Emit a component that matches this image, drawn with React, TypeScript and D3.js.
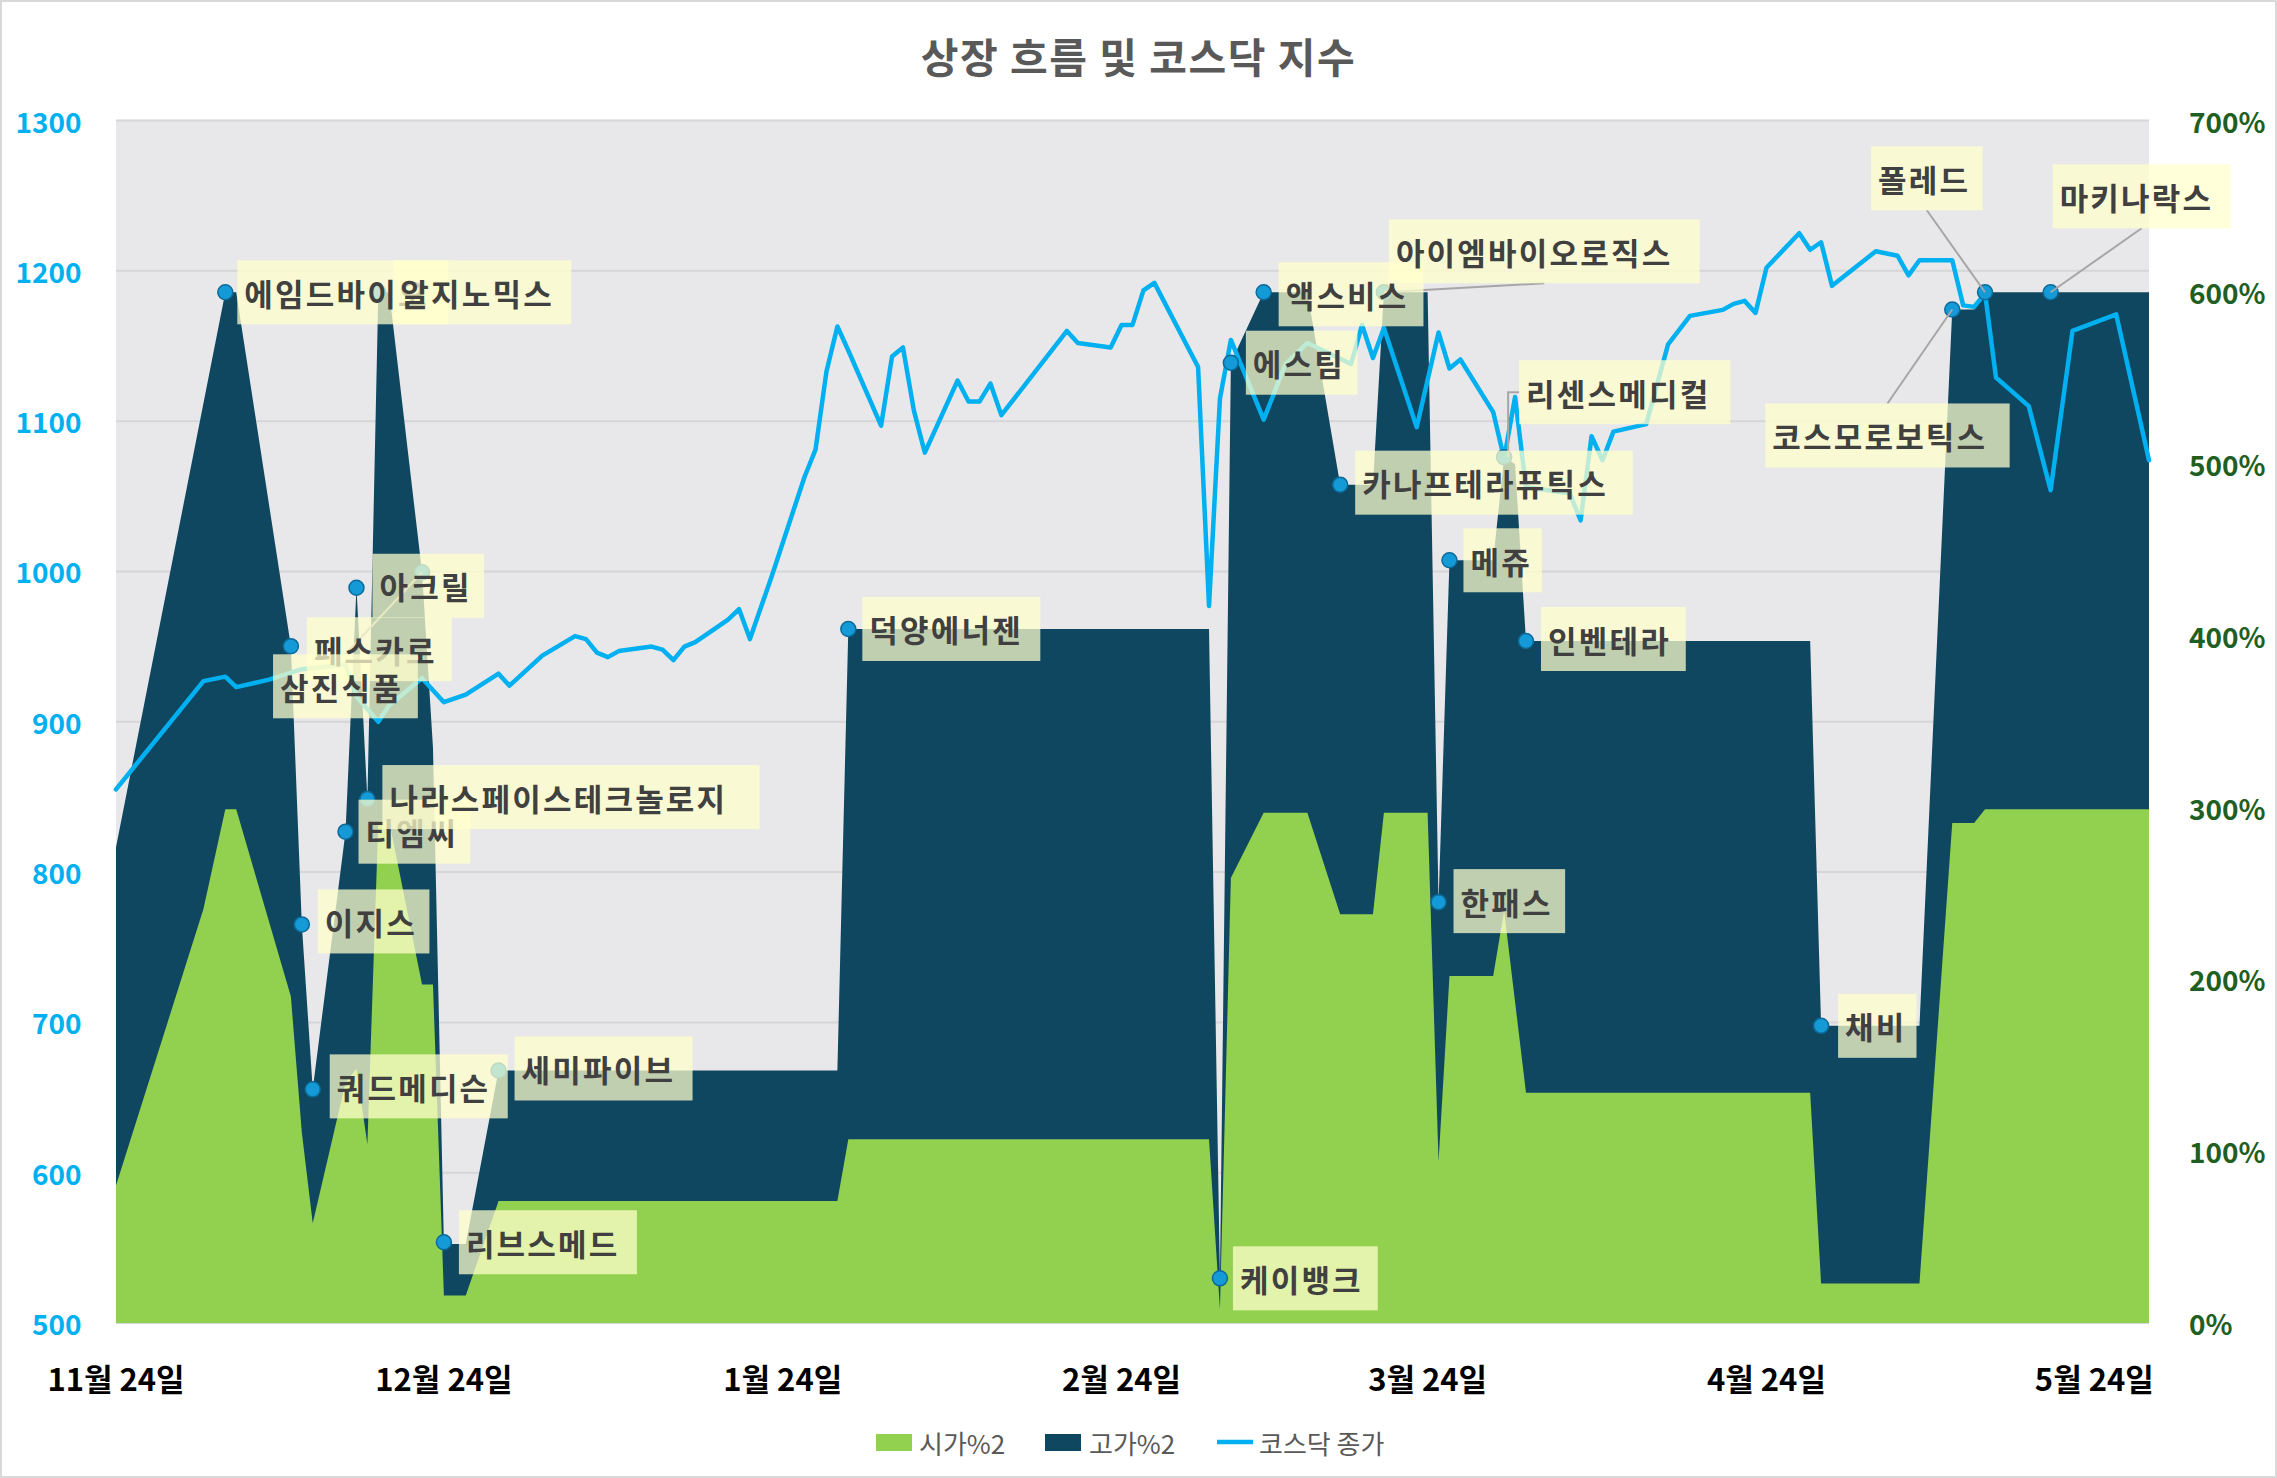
import * as d3 from 'd3';

const W = 2277;
const H = 1478;
const M = { left: 116, right: 2149, top: 120.5, bottom: 1323 };

const TITLE = '상장 흐름 및 코스닥 지수';
const X_DOMAIN = ['2025-11-24', '2026-05-29'];
const X_TICKS = ['2025-11-24', '2025-12-24', '2026-01-24', '2026-02-24', '2026-03-24', '2026-04-24', '2026-05-24'];
const KOSDAQ_TICKS = [500, 600, 700, 800, 900, 1000, 1100, 1200, 1300];
const PCT_TICKS = [0, 100, 200, 300, 400, 500, 600, 700];

// 고가%2 (navy area)
const HIGH_DATES = [
  '2025-11-24', '2025-12-04', '2025-12-05', '2025-12-10', '2025-12-11', '2025-12-12', '2025-12-15',
  '2025-12-16', '2025-12-17', '2025-12-18', '2025-12-19', '2025-12-22', '2025-12-23', '2025-12-24',
  '2025-12-26', '2025-12-29', '2026-01-29', '2026-01-30', '2026-03-04', '2026-03-05', '2026-03-06',
  '2026-03-09', '2026-03-13', '2026-03-16', '2026-03-19', '2026-03-20', '2026-03-24', '2026-03-25',
  '2026-03-26', '2026-03-30', '2026-03-31', '2026-04-01', '2026-04-02', '2026-04-28', '2026-04-29',
  '2026-05-08', '2026-05-11', '2026-05-13', '2026-05-14', '2026-05-29',
];
const HIGH_PCT = [
  277, 600, 600, 394, 232, 136, 286,
  428, 305, 600, 600, 437, 335, 46,
  46, 147, 147, 404, 404, 26, 559,
  600, 600, 488, 488, 600, 600, 245,
  444, 444, 504, 500, 397, 397, 173,
  173, 590, 590, 600, 600,
];

// 시가%2 (green area)
const OPEN_DATES = [
  '2025-11-24', '2025-12-02', '2025-12-04', '2025-12-05', '2025-12-10', '2025-12-11', '2025-12-12',
  '2025-12-15', '2025-12-16', '2025-12-17', '2025-12-18', '2025-12-19', '2025-12-22', '2025-12-23',
  '2025-12-24', '2025-12-26', '2025-12-29', '2026-01-29', '2026-01-30', '2026-03-04', '2026-03-05',
  '2026-03-06', '2026-03-09', '2026-03-13', '2026-03-16', '2026-03-19', '2026-03-20', '2026-03-24',
  '2026-03-25', '2026-03-26', '2026-03-30', '2026-03-31', '2026-04-01', '2026-04-02', '2026-04-28',
  '2026-04-29', '2026-05-08', '2026-05-11', '2026-05-13', '2026-05-14', '2026-05-29',
];
const OPEN_PCT = [
  80, 241, 299, 299, 190, 111, 58,
  140, 148, 104, 292, 292, 197, 197,
  16, 16, 71, 71, 107, 107, 8,
  259, 297, 297, 238, 238, 297, 297,
  94, 202, 202, 240, 187, 134, 134,
  23, 23, 291, 291, 299, 299,
];

// 코스닥 종가
const KOSDAQ_DATES = [
  '2025-11-24', '2025-12-02', '2025-12-04', '2025-12-05', '2025-12-08', '2025-12-11', '2025-12-15',
  '2025-12-16', '2025-12-18', '2025-12-19', '2025-12-22', '2025-12-24', '2025-12-26', '2025-12-29',
  '2025-12-30', '2026-01-02', '2026-01-05', '2026-01-06', '2026-01-07', '2026-01-08', '2026-01-09',
  '2026-01-12', '2026-01-13', '2026-01-14', '2026-01-15', '2026-01-16', '2026-01-19', '2026-01-20',
  '2026-01-21', '2026-01-23', '2026-01-26', '2026-01-27', '2026-01-28', '2026-01-29', '2026-01-30',
  '2026-02-02', '2026-02-03', '2026-02-04', '2026-02-05', '2026-02-06', '2026-02-09', '2026-02-10',
  '2026-02-11', '2026-02-12', '2026-02-13', '2026-02-19', '2026-02-20', '2026-02-23', '2026-02-24',
  '2026-02-25', '2026-02-26', '2026-02-27', '2026-03-03', '2026-03-04', '2026-03-05', '2026-03-06',
  '2026-03-09', '2026-03-11', '2026-03-13', '2026-03-17', '2026-03-18', '2026-03-19', '2026-03-20',
  '2026-03-23', '2026-03-25', '2026-03-26', '2026-03-27', '2026-03-30', '2026-03-31', '2026-04-01',
  '2026-04-02', '2026-04-06', '2026-04-07', '2026-04-08', '2026-04-09', '2026-04-10', '2026-04-13',
  '2026-04-15', '2026-04-17', '2026-04-20', '2026-04-21', '2026-04-22', '2026-04-23', '2026-04-24',
  '2026-04-27', '2026-04-28', '2026-04-29', '2026-04-30', '2026-05-04', '2026-05-06', '2026-05-07',
  '2026-05-08', '2026-05-11', '2026-05-12', '2026-05-13', '2026-05-14', '2026-05-15', '2026-05-18',
  '2026-05-20', '2026-05-22', '2026-05-26', '2026-05-29',
];
const KOSDAQ_CLOSE = [
  855, 927, 930, 923, 928, 935, 938,
  917, 900, 911, 929, 913, 918, 932,
  924, 944, 957, 955, 946, 943, 947,
  950, 948, 941, 950, 953, 968, 975,
  955, 997, 1063, 1081, 1133, 1163, 1147,
  1097, 1143, 1149, 1107, 1079, 1127, 1113,
  1113, 1125, 1104, 1160, 1152, 1149, 1164,
  1164, 1187, 1192, 1136, 977, 1115, 1154,
  1101, 1138, 1152, 1138, 1164, 1142, 1162,
  1096, 1159, 1135, 1141, 1106, 1075, 1116,
  1056, 1052, 1034, 1090, 1074, 1093, 1098,
  1151, 1170, 1174, 1178, 1180, 1172, 1202,
  1225, 1214, 1219, 1190, 1213, 1210, 1197,
  1207, 1207, 1177, 1176, 1185, 1129, 1110,
  1054, 1160, 1171, 1074,
];

// 상장 종목 (label points on 고가%2)
const LISTING_NAMES = [
  '에임드바이오', '페스카로', '이지스', '쿼드메디슨', '티엠씨', '아크릴', '나라스페이스테크놀로지',
  '알지노믹스', '삼진식품', '리브스메드', '세미파이브', '덕양에너젠', '케이뱅크', '에스팀',
  '액스비스', '카나프테라퓨틱스', '아이엠바이오로직스', '한패스', '메쥬', '리센스메디컬', '인벤테라',
  '채비', '코스모로보틱스', '폴레드', '마키나락스',
];
const LISTING_DATES = [
  '2025-12-04', '2025-12-10', '2025-12-11', '2025-12-12', '2025-12-15', '2025-12-16', '2025-12-17',
  '2025-12-18', '2025-12-22', '2025-12-24', '2025-12-29', '2026-01-30', '2026-03-05', '2026-03-06',
  '2026-03-09', '2026-03-16', '2026-03-20', '2026-03-25', '2026-03-26', '2026-03-31', '2026-04-02',
  '2026-04-29', '2026-05-11', '2026-05-14', '2026-05-20',
];
const LISTING_PCT = [
  600, 394, 232, 136, 286, 428, 305,
  600, 437, 47, 147, 404, 26, 559,
  600, 488, 600, 245, 444, 504, 397,
  173, 590, 600, 600,
];

// label placement (pixels, relative to the point)
type Layout = { dx: number; dy: number; leader?: 'top' | 'bottom' | 'elbow' };
const LABEL_LAYOUT: Record<string, Layout> = {
  에임드바이오: { dx: 12, dy: 0 },
  페스카로: { dx: 16, dy: 3 },
  이지스: { dx: 16, dy: -3 },
  쿼드메디슨: { dx: 17, dy: -3 },
  티엠씨: { dx: 13, dy: 0 },
  아크릴: { dx: 16, dy: -2 },
  나라스페이스테크놀로지: { dx: 15, dy: -2 },
  알지노믹스: { dx: 15, dy: 0 },
  삼진식품: { dx: -149, dy: 114, leader: 'top' },
  리브스메드: { dx: 15, dy: 0 },
  세미파이브: { dx: 16, dy: -2 },
  덕양에너젠: { dx: 14, dy: 0 },
  케이뱅크: { dx: 13, dy: 0 },
  에스팀: { dx: 15, dy: 0 },
  액스비스: { dx: 15, dy: 2 },
  카나프테라퓨틱스: { dx: 15, dy: -2 },
  아이엠바이오로직스: { dx: 5, dy: -41, leader: 'bottom' },
  한패스: { dx: 15, dy: -1 },
  메쥬: { dx: 14, dy: 0 },
  리센스메디컬: { dx: 15, dy: -65, leader: 'elbow' },
  인벤테라: { dx: 15, dy: -2 },
  채비: { dx: 17, dy: 0 },
  코스모로보틱스: { dx: -187, dy: 126, leader: 'top' },
  폴레드: { dx: -114, dy: -114, leader: 'bottom' },
  마키나락스: { dx: 2, dy: -96, leader: 'bottom' },
};

const FONT = "'Noto Sans CJK KR', 'Noto Sans', sans-serif";
const NAVY = '#0F4761';
const GREEN = '#92D050';
const CYAN = '#00B0F0';
const LABEL_FS = 31;
const LABEL_LS = 2.2;
const BOX_H = 64;

const parse = d3.timeParse('%Y-%m-%d');
type Pt = { date: Date; v: number };
const zip = (dates: string[], vals: number[]): Pt[] => dates.map((d, i) => ({ date: parse(d) as Date, v: vals[i] }));

export default function App() {
  const x = d3.scaleTime()
    .domain(X_DOMAIN.map(d => parse(d) as Date))
    .range([M.left, M.right]);
  const yL = d3.scaleLinear().domain([500, 1300]).range([M.bottom, M.top]);
  const yR = d3.scaleLinear().domain([0, 700]).range([M.bottom, M.top]);

  const high = zip(HIGH_DATES, HIGH_PCT);
  const open = zip(OPEN_DATES, OPEN_PCT);
  const kosdaq = zip(KOSDAQ_DATES, KOSDAQ_CLOSE);

  const area = d3.area<Pt>()
    .x(d => x(d.date))
    .y0(yR(0))
    .y1(d => yR(d.v));
  const line = d3.line<Pt>()
    .x(d => x(d.date))
    .y(d => yL(d.v));

  const labels = LISTING_NAMES.map((name, i) => {
    const px = x(parse(LISTING_DATES[i]) as Date);
    const py = yR(LISTING_PCT[i]);
    const lay = LABEL_LAYOUT[name];
    const w = name.length * (LABEL_FS + LABEL_LS) + 12;
    const bx = px + lay.dx;
    const by = py + lay.dy - BOX_H / 2;
    let leader: [number, number][] | null = null;
    if (lay.leader === 'top') leader = [[bx + w / 2, by], [px, py]];
    if (lay.leader === 'bottom') leader = [[bx + w / 2, by + BOX_H], [px, py]];
    if (lay.leader === 'elbow') leader = [[bx, by + BOX_H / 2], [px + 4, by + BOX_H / 2], [px + 4, py]];
    return { name, px, py, bx, by, w, leader };
  });

  return (
    <div style={{ position: 'absolute', left: 0, top: 0, width: W, height: H, background: '#fff' }}>
      <svg width={W} height={H} viewBox={`0 0 ${W} ${H}`} style={{ display: 'block', fontFamily: FONT }}>
        <rect x={0} y={0} width={W} height={H} fill="#fff" />
        <rect x={1} y={1} width={W - 2} height={H - 2} fill="none" stroke="#D9D9D9" strokeWidth={2} />

        <text x={W / 2} y={55} textAnchor="middle" dominantBaseline="central"
          fontSize={41} fontWeight={700} fill="#595959" letterSpacing={1.5}>{TITLE}</text>

        {/* plot area */}
        <rect x={M.left} y={M.top} width={M.right - M.left} height={M.bottom - M.top} fill="#E8E8EA" />
        {KOSDAQ_TICKS.map(t => (
          <line key={t} x1={M.left} x2={M.right} y1={yL(t)} y2={yL(t)} stroke="#D6D6D9" strokeWidth={2} />
        ))}

        <path d={area(high) ?? ''} fill={NAVY} />
        <path d={area(open) ?? ''} fill={GREEN} />
        <path d={line(kosdaq) ?? ''} fill="none" stroke={CYAN} strokeWidth={4.5} strokeLinejoin="round" strokeLinecap="round" />

        {/* axes */}
        {KOSDAQ_TICKS.map(t => (
          <text key={t} x={81.5} y={yL(t)} textAnchor="end" dominantBaseline="central"
            fontSize={28} fontWeight={700} fill={CYAN}>{t}</text>
        ))}
        {PCT_TICKS.map(t => (
          <text key={t} x={2189} y={yR(t)} dominantBaseline="central"
            fontSize={28} fontWeight={700} fill="#215E21">{`${t}%`}</text>
        ))}
        {X_TICKS.map(t => {
          const d = parse(t) as Date;
          return (
            <text key={t} x={x(d)} y={1377} textAnchor="middle" dominantBaseline="central"
              fontSize={31} fontWeight={700} fill="#000">{`${d.getMonth() + 1}월 ${d.getDate()}일`}</text>
          );
        })}

        {/* listing points */}
        {labels.map(l => (
          <circle key={l.name} cx={l.px} cy={l.py} r={7.5} fill="#149AD6" stroke="#0C6A99" strokeWidth={1.5} />
        ))}
        {labels.filter(l => l.leader).map(l => (
          <polyline key={l.name} points={l.leader!.map(p => p.join(',')).join(' ')}
            fill="none" stroke="#A6A6A6" strokeWidth={2} />
        ))}
        {labels.map(l => (
          <g key={l.name}>
            <rect x={l.bx} y={l.by} width={l.w} height={BOX_H} fill="rgba(255,255,204,0.74)" />
            <text x={l.bx + 7} y={l.by + BOX_H / 2} dominantBaseline="central"
              fontSize={LABEL_FS} fontWeight={700} fill="#404040" letterSpacing={LABEL_LS}>{l.name}</text>
          </g>
        ))}

        {/* legend */}
        <g fontSize={26} fill="#595959">
          <rect x={876} y={1434} width={36} height={17} fill={GREEN} />
          <text x={919} y={1442} dominantBaseline="central">시가%2</text>
          <rect x={1045} y={1434} width={36} height={17} fill={NAVY} />
          <text x={1089} y={1442} dominantBaseline="central">고가%2</text>
          <line x1={1217} x2={1253} y1={1442} y2={1442} stroke={CYAN} strokeWidth={4.5} />
          <text x={1259} y={1442} dominantBaseline="central">코스닥 종가</text>
        </g>
      </svg>
    </div>
  );
}
